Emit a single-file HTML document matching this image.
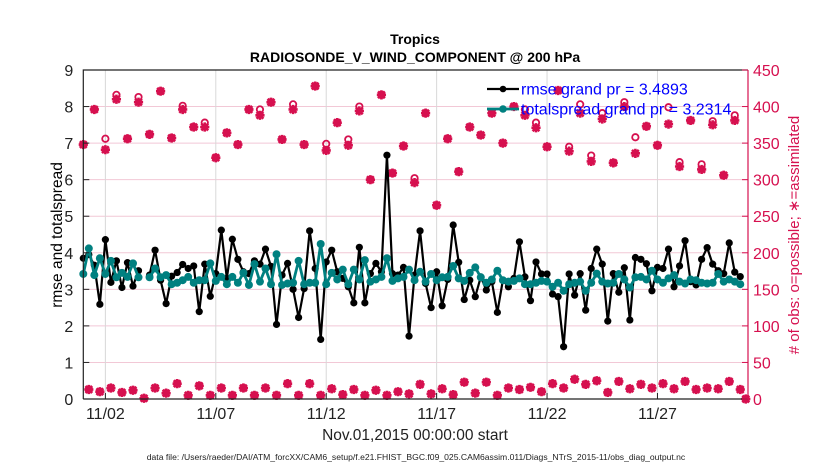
<!DOCTYPE html>
<html><head><meta charset="utf-8">
<style>
body{margin:0;background:#fff;}
svg{display:block;font-family:"Liberation Sans",sans-serif;}
</style></head>
<body>
<svg id="chart" width="830" height="470" viewBox="0 0 830 470" xmlns="http://www.w3.org/2000/svg">
<rect width="830" height="470" fill="#fff"/>
<text x="415" y="44" text-anchor="middle" font-size="14" font-weight="bold">Tropics</text>
<text x="415" y="62" text-anchor="middle" font-size="14" font-weight="bold">RADIOSONDE_V_WIND_COMPONENT @ 200 hPa</text>
<g id="grid"></g>
<g id="obs"></g>
<g id="lines"></g>
<g id="axes"></g>
<g id="legend"></g>
<text transform="translate(62,235) rotate(-90)" text-anchor="middle" font-size="15.5">rmse and totalspread</text>
<text transform="translate(799,235) rotate(-90)" text-anchor="middle" font-size="15" fill="#d6104f"># of obs: o=possible; ∗=assimilated</text>
<text x="415" y="440" text-anchor="middle" font-size="15.5" fill="#222">Nov.01,2015 00:00:00 start</text>
<text x="416" y="460" text-anchor="middle" font-size="8.6" fill="#222">data file: /Users/raeder/DAI/ATM_forcXX/CAM6_setup/f.e21.FHIST_BGC.f09_025.CAM6assim.011/Diags_NTrS_2015-11/obs_diag_output.nc</text>
</svg>
<script>
const rmse=[3.85,3.95,3.66,2.59,4.36,3.19,3.78,3.05,3.73,3.09,3.51,null,3.39,4.07,3.25,2.61,3.36,3.46,3.68,3.57,3.64,2.39,3.69,2.81,3.43,4.62,3.30,4.37,3.82,3.48,
3.43,3.78,3.69,4.10,3.63,2.04,3.39,3.71,3.00,2.23,3.02,4.60,3.57,1.63,3.75,4.07,3.48,3.30,3.07,2.63,4.15,2.63,3.43,3.71,3.48,6.67,3.43,3.39,3.60,1.72,
3.39,4.60,3.16,2.50,3.48,2.55,3.27,4.76,3.74,2.72,3.25,2.80,3.34,2.98,3.21,2.37,3.25,3.07,3.30,4.30,3.34,2.69,3.75,3.42,3.42,2.87,2.80,1.43,3.42,2.84,
3.43,2.43,3.57,4.10,3.69,2.13,3.43,2.92,3.59,2.16,3.87,3.82,3.70,2.96,3.60,3.57,4.10,3.07,3.64,4.33,3.21,3.12,3.82,4.14,3.69,3.51,3.43,4.27,3.47,3.35];
const spread=[3.42,4.12,3.39,3.85,3.42,3.78,3.33,3.45,3.34,3.71,3.33,null,3.33,3.57,3.33,3.39,3.14,3.18,3.25,3.34,3.18,3.25,3.25,3.71,3.23,3.34,3.14,3.34,3.18,3.45,
3.12,3.69,3.21,3.57,3.14,3.96,3.12,3.16,3.18,3.78,3.14,3.18,3.18,4.24,3.14,3.45,3.27,3.54,3.14,3.54,3.27,3.80,3.21,3.27,3.34,3.85,3.23,3.30,3.34,3.54,
3.25,3.48,3.21,3.42,3.25,3.33,3.34,3.64,3.30,3.23,3.45,3.60,3.33,3.18,3.27,3.51,3.25,3.21,3.23,3.30,3.14,3.14,3.18,3.23,3.21,3.07,3.18,2.96,3.14,3.18,
3.21,2.96,3.18,3.43,3.21,3.16,3.18,3.42,3.27,3.05,3.33,3.34,3.27,3.51,3.27,3.18,3.30,3.39,3.21,3.16,3.27,3.25,3.18,3.16,3.18,3.42,3.21,3.27,3.21,3.14];
const obsHighAssim=[348,396,341,410,356,406,362,421,357,396,372,372,330,364,348,396,388,406,355,396,348,428,340,378,347,394,300,416,309,346,
296,391,265,356,311,372,361,391,350,400,388,371,345,422,339,391,325,383,323,400,336,373,347,376,318,381,314,375,306,381,0];
const obsHighPoss=[348,396,356,416,356,413,362,421,357,401,372,378,330,364,348,396,396,406,355,403,348,428,349,378,355,400,300,416,309,346,
302,391,265,356,311,372,361,391,350,400,396,378,345,422,345,403,333,391,323,406,358,373,347,399,324,381,321,380,306,388,0];
const obsLow=[13,10,15,9,12,1,15,8,21,5,18,5,15,5,15,5,15,5,21,5,21,5,14,6,13,5,12,5,10,7,
20,7,14,6,23,8,23,5,15,13,16,10,21,15,27,20,25,9,24,14,20,15,21,14,24,13,15,14,24,13];
const xTickDays=[1,6,11,16,21,26];
const xTickLabels=["11/02","11/07","11/12","11/17","11/22","11/27"];
const yTicks=[0,1,2,3,4,5,6,7,8,9];
const y2Ticks=[0,50,100,150,200,250,300,350,400,450];
const legendLabels=["rmse grand pr = 3.4893","totalspread grand pr = 3.2314"];

const L=83.3,R=748,T=70,B=399,DMAX=30.1;
const CR="#d6104f",TEAL="#008080";
const X=d=>L+(d/DMAX)*(R-L);
const Y=v=>B-(v/9)*(B-T);
const Y2=v=>B-(v/450)*(B-T);
const NS="http://www.w3.org/2000/svg";
function mk(tag,attrs,parent){const e=document.createElementNS(NS,tag);for(const k in attrs)e.setAttribute(k,attrs[k]);parent.appendChild(e);return e;}
const grid=document.getElementById('grid'),obsG=document.getElementById('obs'),lines=document.getElementById('lines'),axes=document.getElementById('axes'),leg=document.getElementById('legend');

yTicks.forEach(v=>{if(v>0&&v<9){const g=mk('line',{x1:L,x2:R,y1:Y(v),y2:Y(v),stroke:'#f2c8d6','stroke-width':1},grid);

}});
xTickDays.forEach(d=>{const g=mk('line',{x1:X(d),x2:X(d),y1:T,y2:B,stroke:'#d8d8d8','stroke-width':1},grid);

});

function star(x,y,p){const s=4.6,q=3.4;const g=mk('path',{d:`M${x-s},${y}H${x+s}M${x},${y-s}V${y+s}M${x-q},${y-q}L${x+q},${y+q}M${x-q},${y+q}L${x+q},${y-q}`,stroke:CR,'stroke-width':2.6,fill:'none'},p);

}
function circ(x,y,p){const c=mk('circle',{cx:x,cy:y,r:3.2,stroke:CR,'stroke-width':1.8,fill:'none'},p);

}
const obsAssim=[],obsPoss=[];
for(let k=0;k<obsLow.length;k++){obsAssim.push(obsHighAssim[k],obsLow[k]);obsPoss.push(obsHighPoss[k],obsLow[k]);}
obsAssim.push(obsHighAssim[obsLow.length]);obsPoss.push(obsHighPoss[obsLow.length]);
obsPoss.forEach((v,i)=>circ(X(i*0.25),Y2(v),obsG));
obsAssim.forEach((v,i)=>star(X(i*0.25),Y2(v),obsG));

function series(arr,color,w,r,name){
 let d='',pen=false;
 arr.forEach((v,i)=>{if(v==null){pen=false;return;}d+=(pen?'L':'M')+X(i*0.25).toFixed(2)+','+Y(v).toFixed(2);pen=true;});
 const p=mk('path',{d:d,stroke:color,'stroke-width':w,fill:'none','stroke-linejoin':'round'},lines);
 
 
 arr.forEach((v,i)=>{if(v==null)return;const c=mk('circle',{cx:X(i*0.25),cy:Y(v),r:r,fill:color},lines);
  
  });
}
series(rmse,'#000',2.2,3.6,'rmse');
series(spread,TEAL,2.8,4,'totalspread');

let a=mk('path',{d:`M${L},${B}V${T}H${R}`,stroke:'#222','stroke-width':1.2,fill:'none'},axes);


a=mk('line',{x1:L,x2:R,y1:B,y2:B,stroke:'#222','stroke-width':1.2},axes);


a=mk('line',{x1:R,x2:R,y1:T,y2:B,stroke:CR,'stroke-width':1.2},axes);


yTicks.forEach(v=>{const t=mk('line',{x1:L,x2:L+6,y1:Y(v),y2:Y(v),stroke:'#222'},axes);


const lb=mk('text',{x:L-10,y:Y(v)+6,'text-anchor':'end','font-size':16,fill:'#222'},axes);lb.textContent=v;

});
y2Ticks.forEach(v=>{const t=mk('line',{x1:R-6,x2:R,y1:Y2(v),y2:Y2(v),stroke:CR},axes);


const lb=mk('text',{x:R+5,y:Y2(v)+6,'font-size':16,fill:CR},axes);lb.textContent=v;

});
xTickDays.forEach((d,i)=>{const t=mk('line',{x1:X(d),x2:X(d),y1:B,y2:B-6,stroke:'#222'},axes);


const lb=mk('text',{x:X(d),y:B+20,'text-anchor':'middle','font-size':16,fill:'#222'},axes);lb.textContent=xTickLabels[i];

});

[['#000',2.2,3.3,89],[TEAL,2.8,3.8,109]].forEach((s,i)=>{
 const ln=mk('line',{x1:487,x2:519,y1:s[3],y2:s[3],stroke:s[0],'stroke-width':s[1]},leg);
 
 
 const c=mk('circle',{cx:503,cy:s[3],r:s[2],fill:s[0]},leg);
 
 
 const t=mk('text',{x:521,y:s[3]+5.5,'font-size':16,fill:'#0000ff'},leg);t.textContent=legendLabels[i];
 
 
});
</script>
</body></html>
